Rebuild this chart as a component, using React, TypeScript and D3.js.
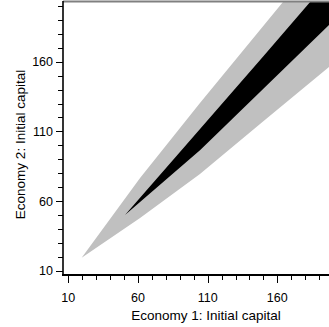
import React from "react";
import * as d3 from "d3";

// Region boundaries (data units)
const grayUpper: [number, number][] = [
  [19.6, 19.3], [61.5, 76.5], [104.5, 130.4], [164.1, 202.9], [176.3, 217.9],
];
const grayLower: [number, number][] = [
  [19.6, 19.3], [61.5, 47.8], [104.5, 79.4], [147.6, 115.3], [197.1, 156.2], [212.2, 168.4],
];
const blackUpper: [number, number][] = [
  [50.7, 50], [100, 106.5], [150, 164], [200, 221.9],
];
const blackLower: [number, number][] = [
  [50.7, 50], [104.7, 96.6], [150, 140.6], [197.1, 186.4], [215, 203.8],
];

const majorTicks = [10, 60, 110, 160];
const xMinorTicks = [20, 30, 40, 50, 70, 80, 90, 100, 120, 130, 140, 150, 170, 180, 190];
const yMinorTicks = [20, 30, 40, 50, 70, 80, 90, 100, 120, 130, 140, 150, 170, 180, 190, 200];

const xTitle = "Economy 1: Initial capital";
const yTitle = "Economy 2: Initial capital";

export default function App() {
  const W = 329, H = 327;
  const left = 63, top = 2, bottom = 275;
  const x = d3.scaleLinear().domain([10, 160]).range([68.3, 277.3]);
  const y = d3.scaleLinear().domain([10, 160]).range([270.7, 61.7]);

  const poly = (upper: [number, number][], lower: [number, number][]) => {
    const pts = [...upper, ...lower.slice(1).reverse()];
    return d3.line<[number, number]>().x((d) => x(d[0])).y((d) => y(d[1]))(pts) + "Z";
  };

  const font = "'Liberation Sans', Arial, sans-serif";

  return (
    <svg width={W} height={H} style={{ position: "absolute", left: 0, top: 0, background: "#fff" }}>
      <defs>
        <clipPath id="plot">
          <rect x={left} y={top} width={W - left} height={bottom - top} />
        </clipPath>
      </defs>
      <g clipPath="url(#plot)">
        <path d={poly(grayUpper, grayLower)} fill="#c0c0c0" />
        <path d={poly(blackUpper, blackLower)} fill="#000" />
      </g>
      {/* top border */}
      <line x1={left} x2={W} y1={1.5} y2={1.5} stroke="#808080" strokeWidth={2} />
      {/* axes */}
      <line x1={left} x2={left} y1={1} y2={bottom + 1} stroke="#000" strokeWidth={1.6} />
      <line x1={left - 1} x2={W} y1={bottom} y2={bottom} stroke="#000" strokeWidth={2} />
      {/* y ticks */}
      {yMinorTicks.map((v) => (
        <line key={"ym" + v} x1={58} x2={left} y1={Math.round(y(v)) + 0.5} y2={Math.round(y(v)) + 0.5} stroke="#000" strokeWidth={1} />
      ))}
      {majorTicks.map((v) => (
        <line key={"yM" + v} x1={56} x2={left} y1={Math.round(y(v)) + 0.5} y2={Math.round(y(v)) + 0.5} stroke="#000" strokeWidth={1} />
      ))}
      {/* x ticks */}
      {xMinorTicks.map((v) => (
        <line key={"xm" + v} y1={bottom} y2={280} x1={Math.round(x(v)) + 0.5} x2={Math.round(x(v)) + 0.5} stroke="#000" strokeWidth={1} />
      ))}
      {majorTicks.map((v) => (
        <line key={"xM" + v} y1={bottom} y2={283} x1={Math.round(x(v)) + 0.5} x2={Math.round(x(v)) + 0.5} stroke="#000" strokeWidth={1} />
      ))}
      {/* tick labels */}
      {majorTicks.map((v) => (
        <text key={"yl" + v} x={53} y={y(v) + 4.5} textAnchor="end" fontFamily={font} fontSize={12.5} fill="#000">
          {v}
        </text>
      ))}
      {majorTicks.map((v) => (
        <text key={"xl" + v} x={x(v)} y={302} textAnchor="middle" fontFamily={font} fontSize={12.5} fill="#000">
          {v}
        </text>
      ))}
      {/* titles */}
      <text x={206} y={320} textAnchor="middle" fontFamily={font} fontSize={13.5} fill="#000">
        {xTitle}
      </text>
      <text transform={`translate(25,144.5) rotate(-90)`} textAnchor="middle" fontFamily={font} fontSize={13.5} fill="#000">
        {yTitle}
      </text>
    </svg>
  );
}
